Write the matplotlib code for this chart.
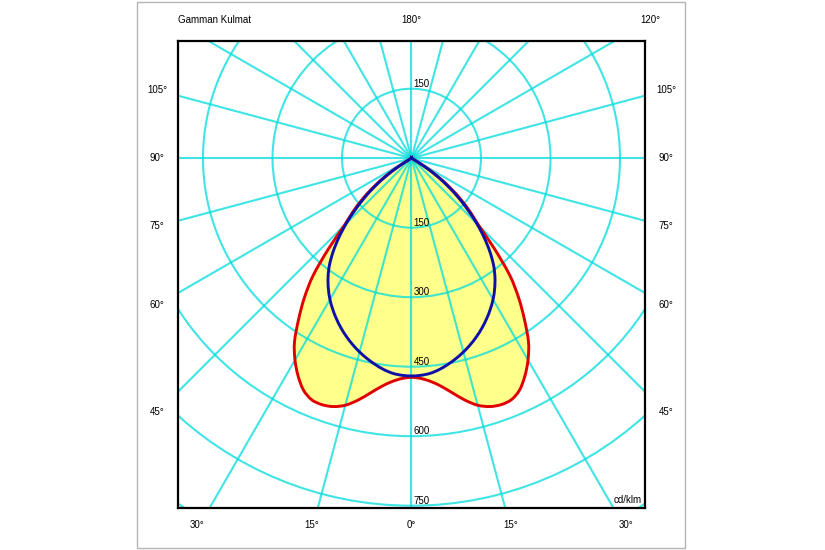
import numpy as np
import matplotlib
matplotlib.use("Agg")
from matplotlib import pyplot as plt
from matplotlib.patches import Circle, Rectangle, PathPatch
from matplotlib.path import Path

plt.rcParams['font.family'] = ['Liberation Sans', 'DejaVu Sans']

# gamma angle from nadir (deg), same curve on both sides
gamma = [0, 2.5, 5, 7.5, 10, 12.5, 15, 17.5, 20, 22.5, 25, 27.5, 30,
         32.5, 35, 37.5, 40, 42.5, 45, 47.5, 50, 52.5, 55, 57.5, 60, 62.5]
# cd/klm
plane_c0 = [473, 476, 484, 497, 515, 535, 552, 562, 566, 564, 552, 530, 503,
            470, 425, 380, 330, 265, 205, 172, 140, 107, 72, 38, 8, 0]
plane_c90 = [470, 469, 466, 460, 452, 443, 433, 422, 410, 397, 383, 368, 352,
             334, 314, 291, 263, 232, 199, 165, 132, 99, 66, 33, 4, 0]
ring_values = [150, 300, 450, 600, 750]
outer_rings = [900]
spoke_angles = list(range(0, 360, 15))

grid_col = '#00dcdc'


def curve_xy(g, r):
    g = np.radians(np.concatenate([-np.array(g[::-1]), np.array(g[1:])]))
    r = np.concatenate([np.array(r[::-1]), np.array(r[1:])])
    return r * np.sin(g), -r * np.cos(g)


def smooth_path(x, y):
    # closed catmull-rom through the points, as cubic bezier segments
    pts = np.column_stack([x, y])[:-1]
    n = len(pts)
    verts = [pts[0]]
    codes = [Path.MOVETO]
    for i in range(n):
        p0, p1, p2, p3 = pts[i - 1], pts[i], pts[(i + 1) % n], pts[(i + 2) % n]
        verts += [p1 + (p2 - p0) / 6, p2 - (p3 - p1) / 6, p2]
        codes += [Path.CURVE4] * 3
    return Path(verts, codes)


fig = plt.figure(figsize=(8.25, 5.5), dpi=100)
fig.patches.append(Rectangle((137 / 825, 2 / 550), 548 / 825, 546 / 550,
                             transform=fig.transFigure, fill=False,
                             edgecolor='#b4b4b4', linewidth=1))

ax = fig.add_axes([178 / 825, 42 / 550, 467 / 825, 467 / 550])
ax.set_xlim(-504, 504)
ax.set_ylim(-755, 253)
ax.set_aspect('equal')
ax.set_xticks([])
ax.set_yticks([])
for s in ax.spines.values():
    s.set_linewidth(1.6)
    s.set_color('black')
    s.set_zorder(10)

# grid
for rv in ring_values + outer_rings:
    ax.add_patch(Circle((0, 0), rv, fill=False, edgecolor=grid_col,
                        linewidth=1.5, alpha=0.75, zorder=2))
for a in spoke_angles:
    t = np.radians(a)
    ax.plot([0, 1200 * np.sin(t)], [0, -1200 * np.cos(t)], color=grid_col,
            linewidth=1.5, alpha=0.75, zorder=2, solid_capstyle='butt')

# curves
red_path = smooth_path(*curve_xy(gamma, plane_c0))
blue_path = smooth_path(*curve_xy(gamma, plane_c90))
ax.add_patch(PathPatch(red_path, facecolor='#ffff8c', edgecolor='none',
                       zorder=1))
ax.add_patch(PathPatch(red_path, facecolor='none', edgecolor='#e00000',
                       linewidth=2.1, zorder=4))
ax.add_patch(PathPatch(blue_path, facecolor='none', edgecolor='#1010a8',
                       linewidth=2.1, zorder=5))

# ring labels
for rv in ring_values:
    ax.text(4, -rv, str(rv), fontsize=7, ha='left', va='bottom', zorder=6)
ax.text(4, ring_values[0], str(ring_values[0]), fontsize=7, ha='left',
        va='bottom', zorder=6)
ax.text(496, -748, 'cd/klm', fontsize=7, ha='right', va='bottom', zorder=6)


def ftext(px, py, s, ha='center'):
    fig.text(px / 825, 1 - py / 550, s, fontsize=7, ha=ha, va='center')


ftext(178, 20, 'Gamman Kulmat', ha='left')
ftext(411, 20, '180°')
ftext(650, 20, '120°')
side_labels = ['105°', '90°', '75°', '60°', '45°']
side_y = [90, 158, 226, 305, 412]
for lab, py in zip(side_labels, side_y):
    ftext(157, py, lab)
    ftext(666, py, lab)
bottom_labels = ['30°', '15°', '0°', '15°', '30°']
bottom_x = [197, 312, 411, 511, 626]
for lab, px in zip(bottom_labels, bottom_x):
    ftext(px, 525, lab)

fig.savefig('out.png', dpi=100)
